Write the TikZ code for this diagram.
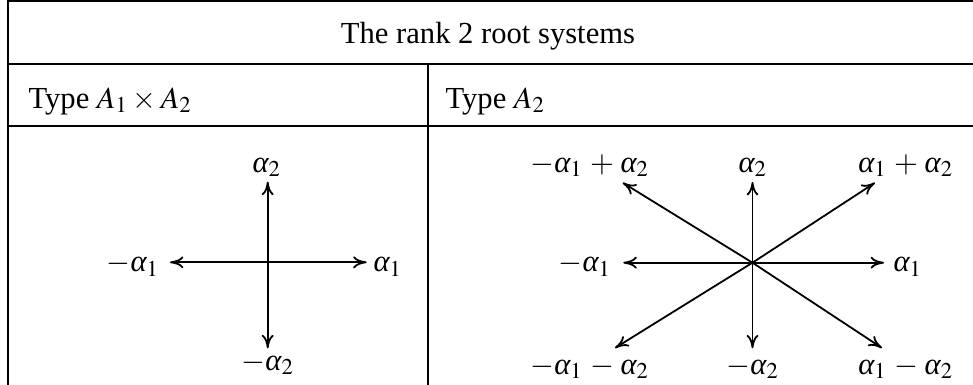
\documentclass[tikz,border=0pt]{standalone}
\usepackage{mathptmx}
\usepackage{fontspec}
\setmainfont{Liberation Serif}
\usepackage{tikz}
\usetikzlibrary{arrows.meta,positioning}
% italic alpha from the text font, with a subscript
\newcommand{\ral}[1]{\mbox{\itshape α}_{#1}}
% binary operator with a little extra room
\newcommand{\rop}[1]{\mathbin{\mskip1.5mu#1\mskip1.5mu}}

\begin{document}
\begin{tikzpicture}[
  x=0.3333pt, y=-0.3333pt,
  font=\fontsize{10.2}{12}\selectfont,
  rule/.style={line width=0.4pt},
  root/.style={-{To[length=4.5pt,width=4pt]}, line width=0.6pt},
  lbl/.style={inner sep=0pt, anchor=base},
]
  % Page: 973 x 385 px, 1px = 1/3 pt, y grows downwards
  \useasboundingbox (0,0) rectangle (973,385);

  % Table rules
  \draw[rule] (8,385) -- (8,1) -- (973,1);
  \draw[rule] (8,64) -- (973,64);
  \draw[rule] (8,126) -- (973,126);
  \draw[rule] (428,64) -- (428,385);

  % Header and column titles
  \node[lbl] (title) at (488,44) {The rank 2 root systems};
  \node[lbl, anchor=base west] (typeL) at (28,108) {Type $A_1\times A_2$};
  \node[lbl, anchor=base west] (typeR) at (445,108) {Type $A_2$};

  % Left diagram
  \coordinate (oL) at (267.7,262.3);
  \coordinate (uL) at (267.7,181.7);
  \coordinate (dL) at (267.7,348.3);
  \coordinate (wL) at (170,262.3);
  \coordinate (eL) at (366.7,262.3);
  \foreach \t in {uL,dL,wL,eL}
    \draw[root] (oL) -- (\t);
  \node[lbl] (a2L) at (267,172) {$\ral{2}$};
  \node[lbl] (ma2L) at (268,370) {$-\ral{2}$};
  \node[lbl, anchor=base east] (ma1L) at (160,272) {$-\ral{1}$};
  \node[lbl, anchor=base west] (a1L) at (373,272) {$\ral{1}$};

  % Right diagram
  \coordinate (oR) at (752.5,262.7);
  \coordinate (nwR) at (622.7,182.7);
  \coordinate (nR)  at (752.5,182);
  \coordinate (neR) at (875,182.7);
  \coordinate (wR)  at (623.3,262.7);
  \coordinate (eR)  at (884,262.7);
  \coordinate (swR) at (615,348);
  \coordinate (sR)  at (752.5,348.3);
  \coordinate (seR) at (882,348);
  \foreach \t in {nwR,nR,neR,wR,eR,swR,sR,seR}
    \draw[root] (oR) -- (\t);
  \node[lbl] (ma1a2) at (590,172) {$-\ral{1}\rop{+}\ral{2}$};
  \node[lbl] (a2R) at (753,172) {$\ral{2}$};
  \node[lbl] (a1a2) at (906,172) {$\ral{1}\rop{+}\ral{2}$};
  \node[lbl, anchor=base east] (ma1R) at (612,272) {$-\ral{1}$};
  \node[lbl, anchor=base west] (a1R) at (893,272) {$\ral{1}$};
  \node[lbl] (ma1ma2) at (590,374) {$-\ral{1}\rop{-}\ral{2}$};
  \node[lbl] (ma2R) at (753,374) {$-\ral{2}$};
  \node[lbl] (a1ma2) at (906,374) {$\ral{1}\rop{-}\ral{2}$};

\end{tikzpicture}
\end{document}
